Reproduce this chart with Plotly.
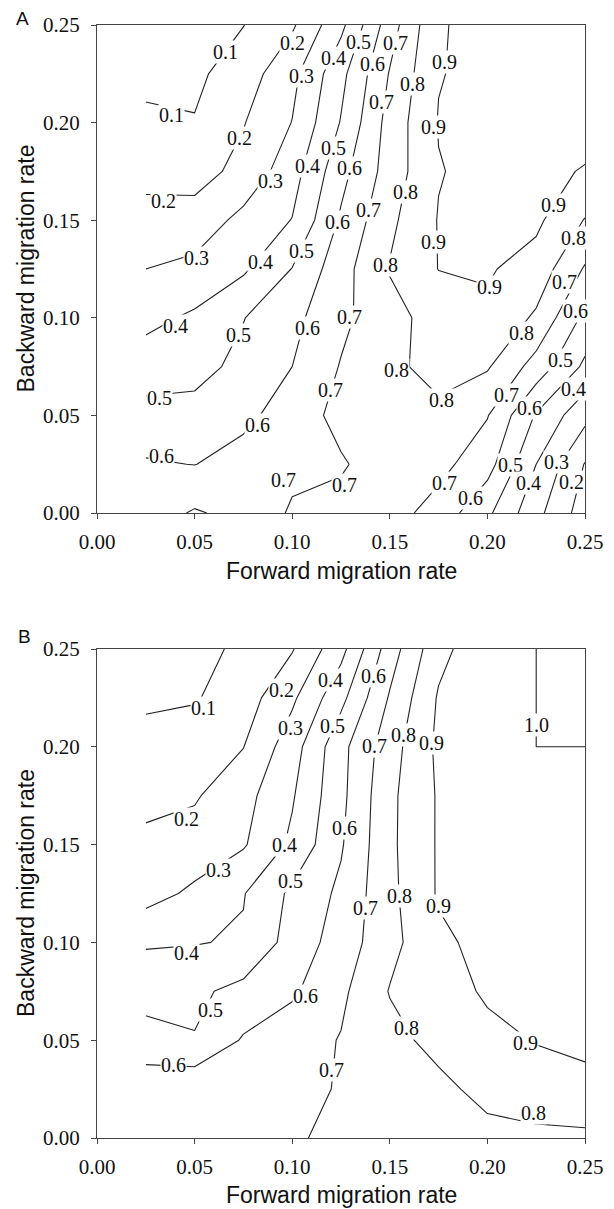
import plotly.graph_objects as go

# ---------------- data ----------------
forward = [0.025, 0.05, 0.075, 0.10, 0.125, 0.15, 0.175, 0.20, 0.225, 0.25]
backward = [0.0, 0.025, 0.05, 0.075, 0.10, 0.125, 0.15, 0.175, 0.20, 0.225, 0.25]

# Panel A values (rows = backward rate, cols = forward rate)
z_a = [
    [0.65, 0.71, 0.67, 0.705, 0.73, 0.74, 0.66, 0.52, 0.33, 0.15],
    [0.61, 0.598, 0.64, 0.69, 0.69, 0.75, 0.73, 0.64, 0.40, 0.195],
    [0.533, 0.53, 0.575, 0.648, 0.729, 0.79, 0.78, 0.705, 0.49, 0.33],
    [0.45, 0.47, 0.524, 0.60, 0.706, 0.78, 0.83, 0.81, 0.66, 0.48],
    [0.373, 0.416, 0.497, 0.572, 0.677, 0.767, 0.84, 0.88, 0.785, 0.575],
    [0.30, 0.327, 0.385, 0.503, 0.661, 0.806, 0.902, 0.91, 0.86, 0.69],
    [0.231, 0.239, 0.329, 0.403, 0.614, 0.778, 0.905, 0.93, 0.92, 0.795],
    [0.172, 0.162, 0.229, 0.358, 0.568, 0.744, 0.895, 0.93, 0.92, 0.895],
    [0.122, 0.105, 0.195, 0.3025, 0.506, 0.738, 0.905, 0.94, 0.95, 0.93],
    [0.07, 0.08, 0.15, 0.272, 0.472, 0.707, 0.895, 0.93, 0.95, 0.95],
    [0.03, 0.06, 0.098, 0.186, 0.375, 0.653, 0.892, 0.93, 0.95, 0.96],
]

# Panel B values
z_b = [
    [0.68, 0.69, 0.68, 0.69, 0.72, 0.74, 0.755, 0.77, 0.78, 0.78],
    [0.66, 0.68, 0.67, 0.68, 0.705, 0.745, 0.775, 0.83, 0.85, 0.875],
    [0.54, 0.505, 0.61, 0.655, 0.705, 0.77, 0.83, 0.87, 0.905, 0.92],
    [0.46, 0.48, 0.53, 0.585, 0.68, 0.805, 0.85, 0.915, 0.935, 0.945],
    [0.39, 0.395, 0.41, 0.54, 0.645, 0.77, 0.88, 0.93, 0.945, 0.955],
    [0.26, 0.32, 0.395, 0.52, 0.62, 0.775, 0.91, 0.95, 0.96, 0.965],
    [0.22, 0.24, 0.29, 0.42, 0.59, 0.78, 0.91, 0.96, 0.97, 0.975],
    [0.175, 0.19, 0.265, 0.39, 0.575, 0.778, 0.91, 0.97, 0.985, 0.99],
    [0.13, 0.15, 0.198, 0.355, 0.57, 0.757, 0.92, 0.99, 1.0, 1.0],
    [0.085, 0.092, 0.152, 0.282, 0.472, 0.71, 0.91, 0.985, 1.0, 1.0],
    [0.05, 0.075, 0.116, 0.193, 0.368, 0.651, 0.87, 0.97, 1.0, 1.0],
]

tick_vals = [0.0, 0.05, 0.10, 0.15, 0.20, 0.25]
tick_text = ["0.00", "0.05", "0.10", "0.15", "0.20", "0.25"]
x_title = "Forward migration rate"
y_title = "Backward migration rate"
panel_letters = ["A", "B"]

# contour label texts and where they sit (forward, backward)
labels_a = [
    ("0.1", 0.066, 0.236), ("0.1", 0.038, 0.204),
    ("0.2", 0.100, 0.2406), ("0.2", 0.073, 0.192), ("0.2", 0.034, 0.160),
    ("0.3", 0.105, 0.224), ("0.3", 0.089, 0.170), ("0.3", 0.051, 0.1305),
    ("0.4", 0.121, 0.233), ("0.4", 0.108, 0.178), ("0.4", 0.084, 0.1287),
    ("0.4", 0.040, 0.096),
    ("0.5", 0.134, 0.2415), ("0.5", 0.121, 0.187), ("0.5", 0.105, 0.134),
    ("0.5", 0.0724, 0.091), ("0.5", 0.032, 0.059),
    ("0.6", 0.141, 0.230), ("0.6", 0.1296, 0.1766), ("0.6", 0.123, 0.149),
    ("0.6", 0.108, 0.0946), ("0.6", 0.082, 0.045), ("0.6", 0.033, 0.0294),
    ("0.7", 0.1527, 0.2406), ("0.7", 0.146, 0.2107), ("0.7", 0.139, 0.155),
    ("0.7", 0.1296, 0.1006), ("0.7", 0.1197, 0.063), ("0.7", 0.0954, 0.0169),
    ("0.7", 0.127, 0.0143), ("0.7", 0.178, 0.0152), ("0.7", 0.210, 0.0605),
    ("0.7", 0.2395, 0.1185),
    ("0.8", 0.1615, 0.220), ("0.8", 0.158, 0.1646), ("0.8", 0.148, 0.127),
    ("0.8", 0.1535, 0.0733), ("0.8", 0.1766, 0.0579), ("0.8", 0.2176, 0.0921),
    ("0.8", 0.244, 0.1407),
    ("0.9", 0.1778, 0.2312), ("0.9", 0.1723, 0.1979), ("0.9", 0.1723, 0.139),
    ("0.9", 0.2013, 0.1159), ("0.9", 0.2338, 0.1578),
    ("0.6", 0.2449, 0.1035), ("0.5", 0.2375, 0.0785), ("0.4", 0.244, 0.0635),
    ("0.6", 0.2218, 0.0536), ("0.5", 0.2116, 0.0246), ("0.4", 0.221, 0.0152),
    ("0.3", 0.2355, 0.0263), ("0.2", 0.2432, 0.016), ("0.6", 0.1911, 0.0075),
]
labels_b = [
    ("0.1", 0.0545, 0.2198),
    ("0.2", 0.0946, 0.2292), ("0.2", 0.046, 0.1632),
    ("0.3", 0.0989, 0.2096), ("0.3", 0.0622, 0.1372),
    ("0.4", 0.1194, 0.2343), ("0.4", 0.0963, 0.150), ("0.4", 0.046, 0.0946),
    ("0.5", 0.1205, 0.2104), ("0.5", 0.0989, 0.1312), ("0.5", 0.058, 0.0656),
    ("0.6", 0.1416, 0.236), ("0.6", 0.127, 0.1585), ("0.6", 0.1066, 0.0724),
    ("0.6", 0.039, 0.0375),
    ("0.7", 0.1424, 0.2002), ("0.7", 0.1376, 0.1176), ("0.7", 0.1202, 0.0349),
    ("0.8", 0.1569, 0.2062), ("0.8", 0.1552, 0.1235), ("0.8", 0.1587, 0.0562),
    ("0.8", 0.2235, 0.0128),
    ("0.9", 0.1715, 0.2019), ("0.9", 0.1749, 0.1184), ("0.9", 0.2193, 0.0486),
    ("1.0", 0.2253, 0.2113),
]

# ---------------- layout helpers ----------------
OFF = 8                      # page body margin of the html output
W, H = 614 - OFF, 1209 - OFF
ML, MT = 97 - OFF, 25 - OFF
PW = 488
MR = W - ML - PW
MB = H - (1138 - OFF)
PH = H - MT - MB


def px2paper(px):
    return (px - OFF - ML) / PW


def py2paper(py):
    return (H - MB - (py - OFF)) / PH


SERIF = "Liberation Serif, Times New Roman, serif"
SANS = "Liberation Sans, Arial, sans-serif"
LINE = "#222222"
AXIS = "#444444"
TXT = "#111111"

contour_style = dict(start=0.1, end=1.0, size=0.1, coloring="lines", showlabels=False)

fig = go.Figure()
for z, xa, ya in ((z_a, "x", "y"), (z_b, "x2", "y2")):
    fig.add_trace(go.Contour(
        x=forward, y=backward, z=z,
        contours=contour_style,
        colorscale=[[0, LINE], [1, LINE]],
        line=dict(width=1.1, smoothing=0),
        showscale=False, hoverinfo="skip",
        xaxis=xa, yaxis=ya,
    ))

axis_common = dict(
    range=[0, 0.25],
    tickmode="array", tickvals=tick_vals, ticktext=tick_text,
    ticks="outside", ticklen=5, tickwidth=1.2, tickcolor=AXIS,
    showline=True, linecolor=AXIS, linewidth=1.2, mirror=True,
    showgrid=False, zeroline=False,
    tickfont=dict(family=SERIF, size=21, color=TXT),
)

a_dom = [py2paper(513), py2paper(25)]
b_dom = [py2paper(1138), py2paper(649)]

fig.update_layout(
    width=W, height=H,
    margin=dict(l=ML, r=MR, t=MT, b=MB, autoexpand=False),
    paper_bgcolor="white", plot_bgcolor="white",
    showlegend=False,
    xaxis=dict(axis_common, domain=[0, 1], anchor="y", ticklabelstandoff=5),
    yaxis=dict(axis_common, domain=a_dom, anchor="x", ticklabelstandoff=7),
    xaxis2=dict(axis_common, domain=[0, 1], anchor="y2", ticklabelstandoff=5),
    yaxis2=dict(axis_common, domain=b_dom, anchor="x2", ticklabelstandoff=7),
)

annotations = []
for labels, xr, yr in ((labels_a, "x", "y"), (labels_b, "x2", "y2")):
    for txt, lx, ly in labels:
        annotations.append(dict(
            text=txt, x=lx, y=ly, xref=xr, yref=yr, showarrow=False,
            xanchor="center", yanchor="middle", bgcolor="white", borderpad=0,
            font=dict(family=SERIF, size=20, color=TXT),
        ))
for letter, (lx, ly) in zip(panel_letters, [(22, 19), (24, 636)]):
    annotations.append(dict(
        text=letter, x=px2paper(lx), y=py2paper(ly), xref="paper", yref="paper",
        showarrow=False, xanchor="center", yanchor="middle",
        font=dict(family=SANS, size=19, color=TXT),
    ))
for ty in (571, 1195):
    annotations.append(dict(
        text=x_title, x=px2paper(341), y=py2paper(ty), xref="paper", yref="paper",
        showarrow=False, xanchor="center", yanchor="middle",
        font=dict(family=SANS, size=23, color=TXT),
    ))
for ty in (269, 893.5):
    annotations.append(dict(
        text=y_title, x=px2paper(25.5), y=py2paper(ty), xref="paper", yref="paper",
        showarrow=False, xanchor="center", yanchor="middle", textangle=-90,
        font=dict(family=SANS, size=23, color=TXT),
    ))
fig.update_layout(annotations=annotations)

fig.write_html("out.html")
